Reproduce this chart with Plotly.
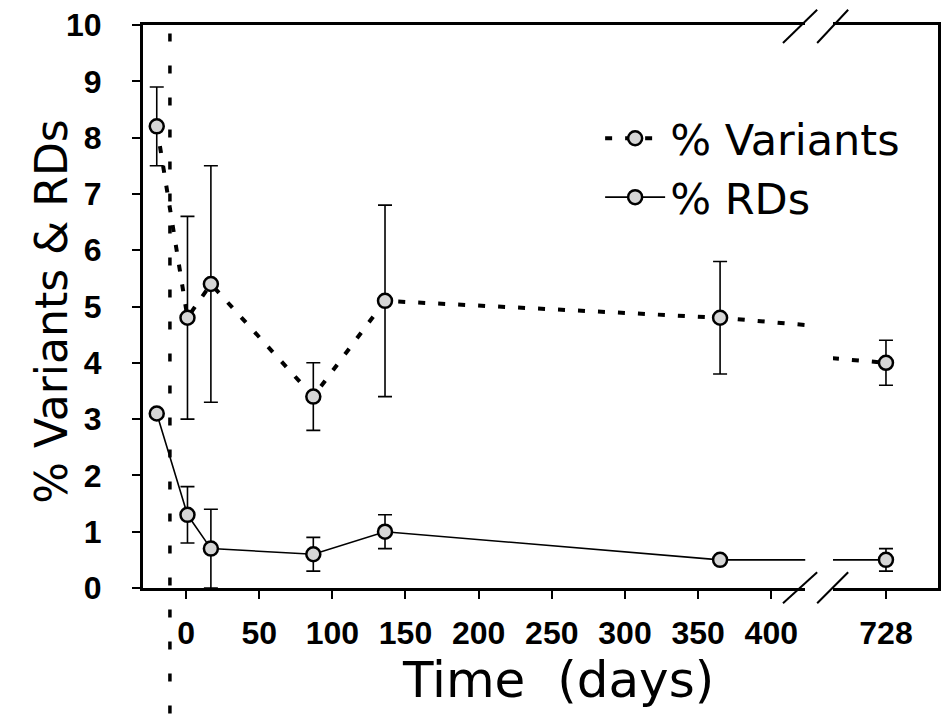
import plotly.graph_objects as go

# ---- data ----
days = [-20, 1, 17, 87, 136, 365, 728]
variants = [8.2, 4.8, 5.4, 3.4, 5.1, 4.8, 4.0]
variants_err = [0.7, 1.8, 2.1, 0.6, 1.7, 1.0, 0.4]
rds = [3.1, 1.3, 0.7, 0.6, 1.0, 0.5, 0.5]
rds_err = [0.0, 0.5, 0.7, 0.3, 0.3, 0.0, 0.2]
left_ticks = [0, 50, 100, 150, 200, 250, 300, 350, 400]
right_ticks = [728]
marker_day = -11  # dotted vertical reference line

TICK_FONT = dict(family="Liberation Sans, Arial, sans-serif", size=32, color="black", weight="bold")
TITLE_FONT = dict(family="DejaVu Sans, sans-serif", size=44, color="black")
XTITLE_FONT = dict(family="DejaVu Sans, sans-serif", size=50, color="black")
LEGEND_FONT = dict(family="DejaVu Sans, sans-serif", size=43, color="black")

fig = go.Figure()

for i, (xa, ya) in enumerate([("x", "y"), ("x2", "y2")]):
    fig.add_trace(go.Scatter(
        x=days, y=variants, name="% Variants", mode="lines+markers",
        xaxis=xa, yaxis=ya, showlegend=(i == 0),
        line=dict(color="black", width=4, dash="7px,13px"),
        marker=dict(size=14, color="#d6d6d6", line=dict(color="black", width=2.5)),
        error_y=dict(type="data", array=variants_err, color="black", thickness=1.6, width=7),
    ))
    fig.add_trace(go.Scatter(
        x=days, y=rds, name="% RDs", mode="lines+markers",
        xaxis=xa, yaxis=ya, showlegend=(i == 0),
        line=dict(color="black", width=1.6),
        marker=dict(size=14, color="#d6d6d6", line=dict(color="black", width=2.5)),
        error_y=dict(type="data", array=rds_err, color="black", thickness=1.6, width=7),
    ))

axis_common = dict(showgrid=False, zeroline=False, showline=True, linecolor="black",
                   linewidth=3, ticks="outside", ticklen=8, tickwidth=1.5, tickcolor="black",
                   tickfont=TICK_FONT, automargin=False)

fig.update_layout(
    width=941, height=724,
    margin=dict(l=143, r=3, t=25, b=136),
    paper_bgcolor="white", plot_bgcolor="white",
    xaxis=dict(domain=[0, 0.833], range=[-29.4, 423.2], tickvals=left_ticks,
               mirror=True, anchor="y", ticklabelstandoff=7, **axis_common),
    xaxis2=dict(domain=[0.868, 1], range=[691.8, 763.6], tickvals=right_ticks,
                mirror=True, anchor="y2", ticklabelstandoff=7, **axis_common),
    yaxis=dict(domain=[0, 1], range=[0, 10], tickvals=list(range(0, 11)),
               anchor="x", ticklabelstandoff=24, **axis_common),
    yaxis2=dict(domain=[0, 1], range=[0, 10], anchor="x2", side="right",
                showgrid=False, zeroline=False, showline=True, linecolor="black",
                linewidth=3, ticks="", showticklabels=False, automargin=False),
    legend=dict(x=0.575, y=0.86, xanchor="left", yanchor="top",
                bgcolor="rgba(0,0,0,0)", font=LEGEND_FONT, itemwidth=60,
                tracegroupgap=0),
    showlegend=True,
)

# axis titles
fig.add_annotation(text="Time  (days)", xref="paper", yref="paper", x=0.522, y=-0.163,
                   xanchor="center", yanchor="middle", showarrow=False, font=XTITLE_FONT)
fig.add_annotation(text="% Variants & RDs", xref="paper", yref="paper", x=-0.115, y=0.49,
                   xanchor="center", yanchor="middle", textangle=-90, showarrow=False,
                   font=TITLE_FONT)

# dotted vertical reference line
fig.add_shape(type="line", xref="x", yref="paper", x0=marker_day, x1=marker_day,
              y0=0.985, y1=-0.25, line=dict(color="black", width=3.5, dash="8px,24px"))

# axis-break slashes
for (xa0, xa1) in [(0.805, 0.848), (0.848, 0.887)]:
    fig.add_shape(type="line", xref="paper", yref="paper", x0=xa0, x1=xa1,
                  y0=-0.027, y1=0.028, line=dict(color="black", width=2))
    fig.add_shape(type="line", xref="paper", yref="paper", x0=xa0, x1=xa1,
                  y0=0.968, y1=1.027, line=dict(color="black", width=2))

fig.write_html("out.html", config={"displayModeBar": False},
               post_script="document.body.style.margin='0';document.body.style.overflow='hidden';")
